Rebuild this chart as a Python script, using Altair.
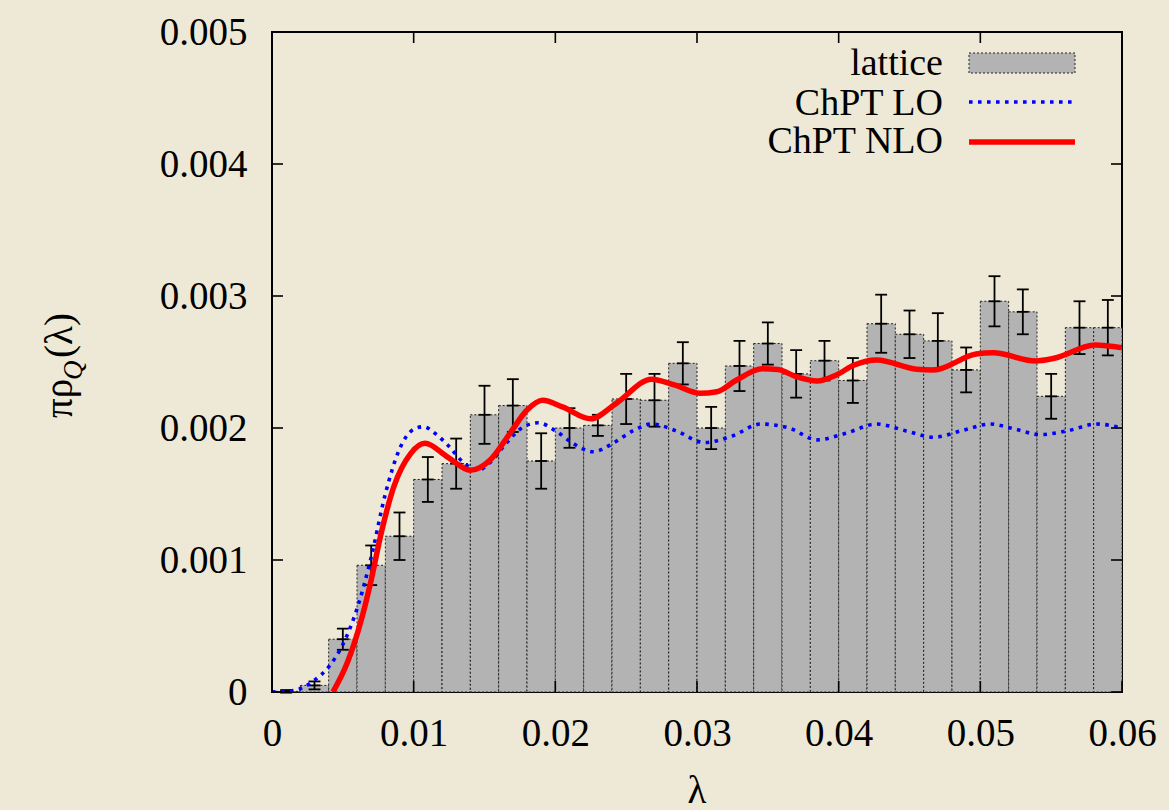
import altair as alt
import pandas as pd

# ---------------- data ----------------
bin_center = [0.001, 0.003, 0.005, 0.007, 0.009, 0.011, 0.013, 0.015, 0.017, 0.019,
              0.021, 0.023, 0.025, 0.027, 0.029, 0.031, 0.033, 0.035, 0.037, 0.039,
              0.041, 0.043, 0.045, 0.047, 0.049, 0.051, 0.053, 0.055, 0.057, 0.059]
bin_value = [0.000005, 0.00005, 0.00040, 0.00096, 0.00118, 0.00161, 0.00173, 0.00210, 0.00217, 0.00175,
             0.00200, 0.00202, 0.00222, 0.00221, 0.00249, 0.00200, 0.00247, 0.00264, 0.00241, 0.00251,
             0.00236, 0.00279, 0.00271, 0.00266, 0.00244, 0.00296, 0.00288, 0.00224, 0.00276, 0.00276]
bin_error = [0.00001, 0.00003, 0.00008, 0.00015, 0.00018, 0.00017, 0.00019, 0.00022, 0.00020, 0.00021,
             0.00015, 0.00008, 0.00019, 0.00020, 0.00016, 0.00016, 0.00019, 0.00016, 0.00018, 0.00015,
             0.00017, 0.00022, 0.00018, 0.00021, 0.00017, 0.00019, 0.00017, 0.00017, 0.00020, 0.00021]

lo_x = [0.0, 0.001, 0.002, 0.003, 0.004, 0.005, 0.006, 0.007, 0.008, 0.009, 0.010, 0.0107,
        0.0115, 0.0125, 0.0135, 0.0145, 0.0155, 0.0165, 0.0175, 0.0188, 0.0200, 0.0213,
        0.0227, 0.0240, 0.0255, 0.0268, 0.0285, 0.0305, 0.0325, 0.0345, 0.0365, 0.0385,
        0.0405, 0.0427, 0.0447, 0.0467, 0.0487, 0.0507, 0.0525, 0.0542, 0.0562, 0.0582, 0.0600]
lo_y = [0.0, 0.000005, 0.000025, 0.00009, 0.00019, 0.00036, 0.00063, 0.00102, 0.00150, 0.00184,
        0.00199, 0.00201, 0.00196, 0.00186, 0.00174, 0.00168, 0.00175, 0.00188, 0.00199, 0.00204,
        0.00198, 0.00188, 0.00182, 0.00188, 0.00198, 0.00203, 0.00198, 0.00189, 0.00194, 0.00203,
        0.00200, 0.00191, 0.00196, 0.00203, 0.00198, 0.00193, 0.00198, 0.00203, 0.00199, 0.00195,
        0.00198, 0.00203, 0.00200]

nlo_x = [0.0043, 0.0053, 0.0063, 0.0070, 0.0077, 0.0086, 0.0098, 0.0108, 0.0124, 0.0140,
         0.0154, 0.0168, 0.0180, 0.0191, 0.0205, 0.0225, 0.0243, 0.0268, 0.0284, 0.0302,
         0.0314, 0.0328, 0.0346, 0.0357, 0.0370, 0.0385, 0.0398, 0.0411, 0.0427, 0.0455,
         0.0467, 0.0497, 0.0509, 0.0539, 0.0552, 0.0581, 0.0600]
nlo_y = [0.0, 0.000217, 0.000545, 0.000848, 0.00120, 0.001555, 0.001808, 0.001884, 0.00178, 0.00168,
         0.001758, 0.00196, 0.002136, 0.00221, 0.00216, 0.00207, 0.002187, 0.00237, 0.002326, 0.002263,
         0.002275, 0.002364, 0.002449, 0.002444, 0.002389, 0.002356, 0.002400, 0.002477, 0.002515, 0.002445,
         0.00244, 0.002561, 0.00257, 0.002508, 0.002528, 0.002629, 0.002608]

x_ticks = [0.0, 0.01, 0.02, 0.03, 0.04, 0.05, 0.06]
y_ticks = [0.0, 0.001, 0.002, 0.003, 0.004, 0.005]
legend_labels = ["lattice", "ChPT LO", "ChPT NLO"]

# ---------------- derived tables ----------------
BIN_HALF = 0.001
CAP_HALF = 0.00042

bars = pd.DataFrame({"center": bin_center, "value": bin_value, "err": bin_error})
bars["lo"] = bars["center"] - BIN_HALF
bars["hi"] = bars["center"] + BIN_HALF
bars["zero"] = 0.0
bars["elo"] = bars["value"] - bars["err"]
bars["ehi"] = bars["value"] + bars["err"]
bars["cl"] = bars["center"] - CAP_HALF
bars["cr"] = bars["center"] + CAP_HALF

lo_df = pd.DataFrame({"x": lo_x, "y": lo_y})
nlo_df = pd.DataFrame({"x": nlo_x, "y": nlo_y})
xt_df = pd.DataFrame({"t": x_ticks})
yt_df = pd.DataFrame({"t": y_ticks})
one = pd.DataFrame({"k": [0]})

FONT = "Liberation Serif"
FS = 39
BG = "#EEE9D6"
BAR_FILL = "#B3B3B3"

xs = alt.Scale(domain=[0, 0.06], nice=False, zero=False)
ys = alt.Scale(domain=[0, 0.005], nice=False, zero=False)

x_axis = alt.Axis(values=x_ticks, format="~g", grid=False, ticks=False, domain=False,
                  labelFont=FONT, labelFontSize=FS, labelColor="black",
                  labelPadding=22, labelFlush=False, labelOverlap=False)
y_axis = alt.Axis(values=y_ticks, format="~g", grid=False, ticks=False, domain=False,
                  labelFont=FONT, labelFontSize=FS, labelColor="black",
                  labelPadding=25, labelFlush=False, labelOverlap=False)


def X(field):
    return alt.X(field, scale=xs, axis=x_axis, title=None)


def Y(field):
    return alt.Y(field, scale=ys, axis=y_axis, title=None)


# ---------------- layers ----------------
bar_layer = alt.Chart(bars).mark_rect(
    fill=BAR_FILL, stroke="#222222", strokeWidth=1, strokeDash=[2, 2]
).encode(x=X("lo:Q"), x2="hi:Q", y=Y("zero:Q"), y2="value:Q")

RULE = dict(color="black", strokeWidth=1.8)
err_layer = alt.Chart(bars).mark_rule(**RULE).encode(
    x=X("center:Q"), y=Y("elo:Q"), y2="ehi:Q")
cap_top = alt.Chart(bars).mark_rule(**RULE).encode(x=X("cl:Q"), x2="cr:Q", y=Y("ehi:Q"))
cap_bot = alt.Chart(bars).mark_rule(**RULE).encode(x=X("cl:Q"), x2="cr:Q", y=Y("elo:Q"))
cap_mid = alt.Chart(bars).mark_rule(**RULE).encode(x=X("cl:Q"), x2="cr:Q", y=Y("value:Q"))

lo_layer = alt.Chart(lo_df).mark_line(
    color="#0000FF", strokeWidth=3.6, strokeDash=[3.6, 5.4], strokeCap="butt",
    interpolate="monotone", clip=True
).encode(x=X("x:Q"), y=Y("y:Q"))
nlo_layer = alt.Chart(nlo_df).mark_line(
    color="#FF0000", strokeWidth=5.5, interpolate="monotone", clip=True
).encode(x=X("x:Q"), y=Y("y:Q"))

TICK_W = 1.6
tick_bottom = alt.Chart(xt_df).mark_rule(color="black", strokeWidth=TICK_W).encode(
    x=X("t:Q"), y=alt.value(649), y2=alt.value(660))
tick_top = alt.Chart(xt_df).mark_rule(color="black", strokeWidth=TICK_W).encode(
    x=X("t:Q"), y=alt.value(0), y2=alt.value(11))
tick_left = alt.Chart(yt_df).mark_rule(color="black", strokeWidth=TICK_W).encode(
    y=Y("t:Q"), x=alt.value(0), x2=alt.value(11))
tick_right = alt.Chart(yt_df).mark_rule(color="black", strokeWidth=TICK_W).encode(
    y=Y("t:Q"), x=alt.value(839), x2=alt.value(850))


# legend (drawn inside the plot, top right)
def legend_text(label, ybase):
    return alt.Chart(one).mark_text(
        font=FONT, fontSize=38, align="right", baseline="alphabetic", color="black"
    ).encode(x=alt.value(671), y=alt.value(ybase), text=alt.value(label))


leg_rect = alt.Chart(one).mark_rect(
    fill=BAR_FILL, stroke="#222222", strokeWidth=1, strokeDash=[2, 2]
).encode(x=alt.value(697), x2=alt.value(803), y=alt.value(21), y2=alt.value(41))
leg_lo = alt.Chart(one).mark_rule(
    color="#0000FF", strokeWidth=3.6, strokeDash=[3.6, 5.4], strokeCap="butt"
).encode(x=alt.value(697), x2=alt.value(802), y=alt.value(70))
leg_nlo = alt.Chart(one).mark_rule(color="#FF0000", strokeWidth=5.5).encode(
    x=alt.value(697), x2=alt.value(803), y=alt.value(110))

# axis titles
x_title = alt.Chart(one).mark_text(
    font=FONT, fontSize=FS, align="center", baseline="alphabetic", color="black"
).encode(x=alt.value(425), y=alt.value(771), text=alt.value("λ"))

y_title_a = alt.Chart(one).mark_text(
    font=FONT, fontSize=FS, align="left", baseline="alphabetic", angle=270, color="black"
).encode(x=alt.value(-200), y=alt.value(386), text=alt.value("πρ"))
y_title_q = alt.Chart(one).mark_text(
    font=FONT, fontSize=27, fontStyle="italic", align="left", baseline="alphabetic",
    angle=270, color="black"
).encode(x=alt.value(-190), y=alt.value(348), text=alt.value("Q"))
y_title_b = alt.Chart(one).mark_text(
    font=FONT, fontSize=FS, align="left", baseline="alphabetic", angle=270, color="black"
).encode(x=alt.value(-200), y=alt.value(326), text=alt.value("(λ)"))

chart = alt.layer(
    bar_layer, err_layer, cap_top, cap_bot, cap_mid, lo_layer, nlo_layer,
    tick_bottom, tick_top, tick_left, tick_right,
    leg_rect, leg_lo, leg_nlo,
    legend_text(legend_labels[0], 43), legend_text(legend_labels[1], 83),
    legend_text(legend_labels[2], 121),
    x_title, y_title_a, y_title_q, y_title_b,
).properties(
    width=850, height=660,
    autosize=alt.AutoSizeParams(type="none"),
    padding={"left": 272, "top": 32, "right": 47, "bottom": 118},
    background=BG,
).configure_view(
    stroke="black", strokeWidth=2, fill=BG
)

chart.save("out.html", embed_options={"renderer": "svg", "actions": False})
